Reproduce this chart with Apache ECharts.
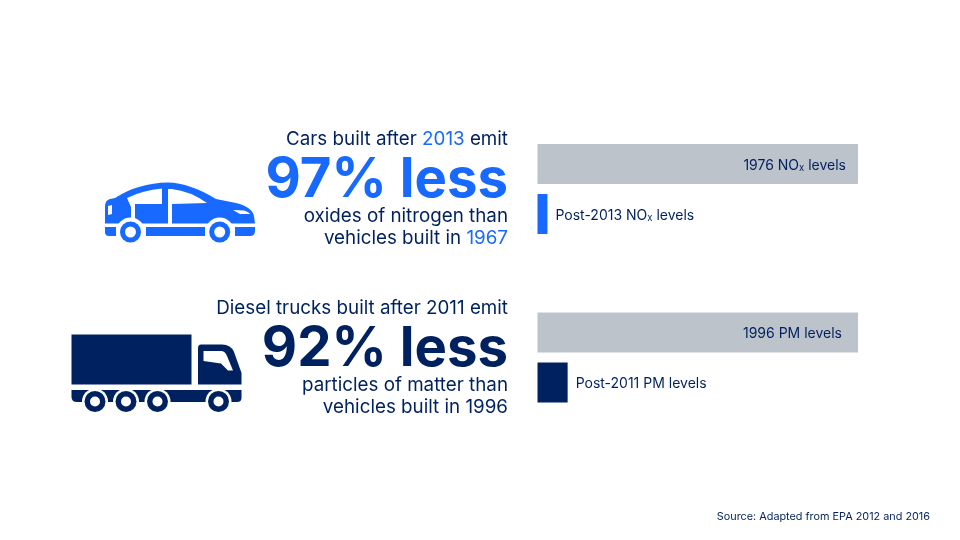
<!DOCTYPE html>
<html>
<head>
<meta charset="utf-8">
<style>html,body{margin:0;background:#fff}#chart{width:960px;height:540px}</style>
<script src="https://cdn.jsdelivr.net/npm/echarts@6/dist/echarts.min.js"></script>
</head>
<body>
<div id="chart"></div>
<script>
// bar data, share of the older level
var carCategories = ['1976 NOx levels', 'Post-2013 NOx levels'];
var carValues = [100, 3.1];
var truckCategories = ['1996 PM levels', 'Post-2011 PM levels'];
var truckValues = [100, 9.4];

var BLUE = '#1769ff', NAVY = '#00215f', GREY = '#bdc3cb';
var FONT = 'Inter';
var SMALL = 18.8, BIG = 54.5;

var myChart = echarts.init(document.getElementById('chart'));

// "NOx" gets a small subscript x
function barLabel(p) {
    return p.name.replace('NOx', 'NO{sub|x}');
}

function barGrid(top) {
    return { left: 537.5, width: 320.5, top: top, height: 100 };
}

function barSeries(index, values, colors, inset) {
    return {
        type: 'bar',
        xAxisIndex: index,
        yAxisIndex: index,
        barWidth: 40,
        silent: true,
        animation: false,
        data: values.map(function (v, i) {
            return {
                value: v,
                itemStyle: { color: colors[i] },
                label: {
                    show: true,
                    position: i === 0 ? 'insideRight' : 'right',
                    distance: i === 0 ? inset : 8,
                    offset: [0, 1.5],
                    formatter: barLabel,
                    color: NAVY,
                    fontFamily: FONT,
                    fontSize: 14,
                    rich: { sub: { fontSize: 9.5, color: NAVY, fontFamily: FONT, padding: [5, 0, 0, 0] } }
                }
            };
        })
    };
}

function valueAxis(index) {
    return { gridIndex: index, type: 'value', min: 0, max: 100, show: false };
}
function catAxis(index, cats) {
    return { gridIndex: index, type: 'category', inverse: true, data: cats, show: false };
}

// headline text, right aligned on x=508
function textLine(y, text, size, weight, color) {
    return {
        type: 'text', x: 508, y: y, silent: true,
        style: {
            text: text, align: 'right', verticalAlign: 'middle',
            fontFamily: FONT, fontSize: size, fontWeight: weight, fill: color,
            rich: {
                b: { fill: BLUE, fontFamily: FONT, fontSize: size, fontWeight: weight },
                n: { fill: NAVY, fontFamily: FONT, fontSize: size, fontWeight: weight }
            }
        }
    };
}

// graphic has no plain path type, so each svg path is registered as its own shape
var shapeCount = 0;
function shape(d, fill) {
    var name = 'iconPart' + (shapeCount++);
    echarts.graphic.registerShape(name, echarts.graphic.extendPath(d, {}));
    return { type: name, silent: true, style: { fill: fill } };
}
function wheel(cx, cy, color, halo, inner) {
    return [
        { type: 'circle', silent: true, shape: { cx: cx, cy: cy, r: halo }, style: { fill: '#fff' } },
        { type: 'circle', silent: true, shape: { cx: cx, cy: cy, r: 10.5 }, style: { fill: color } },
        { type: 'circle', silent: true, shape: { cx: cx, cy: cy, r: inner }, style: { fill: '#fff' } }
    ];
}

// car icon
var carIcon = [
    shape('M105 207 Q105 200 110 199 L115 198 Q138 183 168 182.5 Q190 183 216 199 L236 203 Q252 207 254 216 L255 223.5 L105 223.5 Z', BLUE),
    shape('M105 227 L116 227 L116 236 L109 236 Q105 236 105 232 Z', BLUE),
    shape('M146 227 L205 227 L205 236 L146 236 Z', BLUE),
    shape('M235 227 L255 227 L255 231 Q255 236 250 236 L235 236 Z', BLUE),
    shape('M127 198 Q143 190 162 188.5 L162 204 L135 204 L135 222 L131 222 L131 207 Z', '#fff'),
    shape('M172 189 Q190 191 207 203 L172 204 L172 224 L168 224 L168 189 Z', '#fff'),
    shape('M233 210 L244 210.5 Q249 212 250 214 L240 214 Z', '#fff'),
    shape('M108 206 L112 205 L112 214 L108 215 Z', '#fff')
].concat(wheel(130.5, 232, BLUE, 14.5, 5.5), wheel(219.7, 232, BLUE, 14.5, 5.5));

// truck icon
var truckIcon = [
    shape('M71.5 334.5 L191.5 334.5 L191.5 384.5 L71.5 384.5 Z', NAVY),
    shape('M198 348 Q198 344.5 201 344.5 L222 344.5 Q231 344.5 234 352 L241.5 373 L241.5 384.5 L198 384.5 Z', NAVY),
    shape('M203.5 351 L221 351 Q225 351 227 356 L233 370.5 L228 370.5 L221 363.5 L203.5 361 Z', '#fff'),
    shape('M71.5 390 L241.5 390 L241.5 398 Q241.5 402 237 402 L77 402 Q71.5 402 71.5 397 Z', NAVY)
].concat(
    wheel(95, 401.5, NAVY, 13, 5),
    wheel(126, 401.5, NAVY, 13, 5),
    wheel(157.5, 401.5, NAVY, 13, 5),
    wheel(218.5, 401.5, NAVY, 13, 5)
);

var option = {
    backgroundColor: '#fff',
    grid: [barGrid(139), barGrid(307.5)],
    xAxis: [valueAxis(0), valueAxis(1)],
    yAxis: [catAxis(0, carCategories), catAxis(1, truckCategories)],
    series: [
        barSeries(0, carValues, [GREY, BLUE], 12),
        barSeries(1, truckValues, [GREY, NAVY], 16)
    ],
    graphic: carIcon.concat(truckIcon, [
        textLine(139.5, '{n|Cars built after }{b|2013}{n| emit}', SMALL, 400, NAVY),
        textLine(180.5, '97% less', BIG, 700, BLUE),
        textLine(216, 'oxides of nitrogen than', SMALL, 400, NAVY),
        textLine(238, '{n|vehicles built in }{b|1967}', SMALL, 400, NAVY),
        textLine(308.5, 'Diesel trucks built after 2011 emit', SMALL, 400, NAVY),
        textLine(349.5, '92% less', BIG, 700, NAVY),
        textLine(385, 'particles of matter than', SMALL, 400, NAVY),
        textLine(407, 'vehicles built in 1996', SMALL, 400, NAVY),
        {
            type: 'text', x: 930, y: 516.5, silent: true,
            style: {
                text: 'Source: Adapted from EPA 2012 and 2016', align: 'right', verticalAlign: 'middle',
                fontFamily: FONT, fontSize: 10.85, fill: NAVY
            }
        }
    ])
};
myChart.setOption(option);
</script>
</body>
</html>
